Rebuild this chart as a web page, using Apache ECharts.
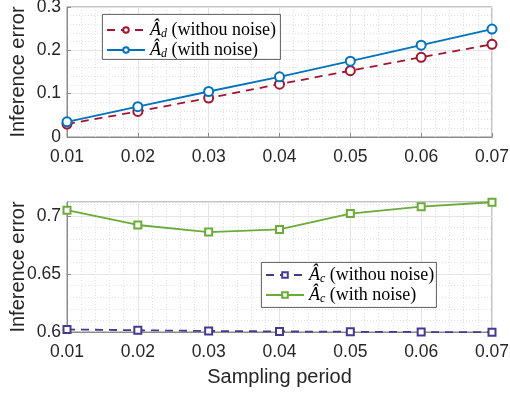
<!DOCTYPE html>
<html>
<head>
<meta charset="utf-8">
<script src="https://cdn.jsdelivr.net/npm/echarts@6/dist/echarts.min.js"></script>
<style>
  html, body { margin: 0; padding: 0; background: #fff; }
  #chart { width: 510px; height: 394px; }
</style>
</head>
<body>
<div id="chart"></div>
<script>
const periods = [0.01, 0.02, 0.03, 0.04, 0.05, 0.06, 0.07]
// top panel: A_d
const adNoNoise = [0.030, 0.059, 0.090, 0.122, 0.153, 0.184, 0.214]
const adNoise = [0.035, 0.070, 0.105, 0.139, 0.175, 0.212, 0.249]
// bottom panel: A_c
const acNoNoise = [0.6022, 0.6015, 0.6009, 0.6005, 0.6002, 0.6000, 0.5998]
const acNoise = [0.7049, 0.6922, 0.6861, 0.6884, 0.7020, 0.7080, 0.7118]

const pairs = (ys) => periods.map((x, i) => [x, ys[i]])

const legendNames = {
  adNo: ['d', 'withou noise'],
  adYes: ['d', 'with noise'],
  acNo: ['c', 'withou noise'],
  acYes: ['c', 'with noise'],
}

const sans = 'Liberation Sans, Arial, sans-serif'
const tickFont = { fontFamily: sans, fontSize: 17.5, color: '#262626' }
const nameFont = { fontFamily: sans, fontSize: 20, color: '#262626' }
const boxColor = '#8a8a8a'

function xAxisFor(gridIndex, withName) {
  return {
    type: 'value',
    gridIndex,
    min: 0.01,
    max: 0.07,
    interval: 0.01,
    name: withName ? 'Sampling period' : '',
    nameLocation: 'middle',
    nameGap: 35,
    nameTextStyle: nameFont,
    axisLine: { lineStyle: { color: boxColor } },
    axisTick: { inside: true, length: 4, lineStyle: { color: boxColor } },
    axisLabel: { ...tickFont, margin: 11, formatter: (v) => v.toFixed(2) },
    splitLine: { show: true, lineStyle: { color: '#e4e4e4' } },
    minorTick: { show: false, splitNumber: 5 },
    minorSplitLine: { show: true, lineStyle: { color: '#e2e2e2', type: [1, 2] } },
  }
}

function yAxisFor(gridIndex, min, max, interval, fmt) {
  return {
    type: 'value',
    gridIndex,
    min,
    max,
    interval,
    name: 'Inference error',
    nameLocation: 'middle',
    nameGap: 39,
    nameMoveOverlap: false,
    nameTextStyle: nameFont,
    axisLine: { show: true, lineStyle: { color: boxColor } },
    axisTick: { show: true, inside: true, length: 4, lineStyle: { color: boxColor } },
    axisLabel: { ...tickFont, margin: 6, showMaxLabel: fmt === null, formatter: fmt || ((v) => String(+v.toFixed(2))) },
    splitLine: { show: true, lineStyle: { color: '#e4e4e4' } },
    minorTick: { show: false, splitNumber: 5 },
    minorSplitLine: { show: true, lineStyle: { color: '#e2e2e2', type: [1, 2] } },
  }
}

const serif = 'Liberation Serif, serif'
const legendRich = {
  a: { fontFamily: serif, fontStyle: 'italic', fontSize: 18, color: '#000' },
  s: { fontFamily: serif, fontStyle: 'italic', fontSize: 12, color: '#000', padding: [7, 0, 0, 0] },
  t: { fontFamily: serif, fontSize: 18, color: '#000' },
}
const legendFormatter = (name) => {
  const [sub, txt] = legendNames[name]
  return '{a|Â}{s|' + sub + '}{t| (' + txt + ')}'
}

// legend box drawn as a plain frame behind the legend entries
function legendFrame(x, y, w, h) {
  return {
    type: 'rect', left: x, top: y, z: 3,
    shape: { width: w, height: h },
    style: { fill: '#fff', stroke: '#333', lineWidth: 0.8 },
  }
}

function legendBox(left, top, data) {
  return {
    data,
    orient: 'vertical',
    left,
    top,
    z: 5,
    itemWidth: 38,
    itemHeight: 7,
    itemGap: 1.5,
    padding: 0,
    formatter: legendFormatter,
    textStyle: { rich: legendRich },
  }
}

const red = '#a2142f'
const blue = '#0072bd'
const purple = '#463a8f'
const green = '#6aab3a'

const chart = echarts.init(document.getElementById('chart'))
chart.setOption({
  animation: false,
  grid: [
    { left: 67, right: 18, top: 7, height: 130, outerBoundsMode: 'none', show: true, borderColor: boxColor, borderWidth: 1, backgroundColor: '#fff' },
    { left: 67, right: 18, top: 202, height: 130, outerBoundsMode: 'none', show: true, borderColor: boxColor, borderWidth: 1, backgroundColor: '#fff' },
  ],
  graphic: [legendFrame(102, 14, 178, 45), legendFrame(261, 262, 175, 45)],
  legend: [
    legendBox(106, 21, ['adNo', 'adYes']),
    legendBox(265, 266, ['acNo', 'acYes']),
  ],
  xAxis: [xAxisFor(0, false), xAxisFor(1, true)],
  yAxis: [
    yAxisFor(0, 0, 0.3, 0.1, null),
    yAxisFor(1, 0.6, 0.712, 0.05, (v) => (Math.abs(v - 0.712) < 1e-6 ? '' : String(+v.toFixed(2)))),
  ],
  series: [
    {
      name: 'adNo', type: 'line', xAxisIndex: 0, yAxisIndex: 0, data: pairs(adNoNoise),
      symbol: 'emptyCircle', symbolSize: 9, clip: false,
      lineStyle: { color: red, width: 1.8, type: [8, 6] }, itemStyle: { color: red, borderWidth: 1.6 },
    },
    {
      name: 'adYes', type: 'line', xAxisIndex: 0, yAxisIndex: 0, data: pairs(adNoise),
      symbol: 'emptyCircle', symbolSize: 9, clip: false,
      lineStyle: { color: blue, width: 1.8 }, itemStyle: { color: blue, borderWidth: 1.6 },
    },
    {
      name: 'acNo', type: 'line', xAxisIndex: 1, yAxisIndex: 1, data: pairs(acNoNoise),
      symbol: 'emptyRect', symbolSize: 7, clip: false,
      lineStyle: { color: purple, width: 1.8, type: [8, 6] }, itemStyle: { color: purple, borderWidth: 1.6 },
    },
    {
      name: 'acYes', type: 'line', xAxisIndex: 1, yAxisIndex: 1, data: pairs(acNoise),
      symbol: 'emptyRect', symbolSize: 7, clip: false,
      lineStyle: { color: green, width: 1.8 }, itemStyle: { color: green, borderWidth: 1.6 },
    },
  ],
})
</script>
</body>
</html>
